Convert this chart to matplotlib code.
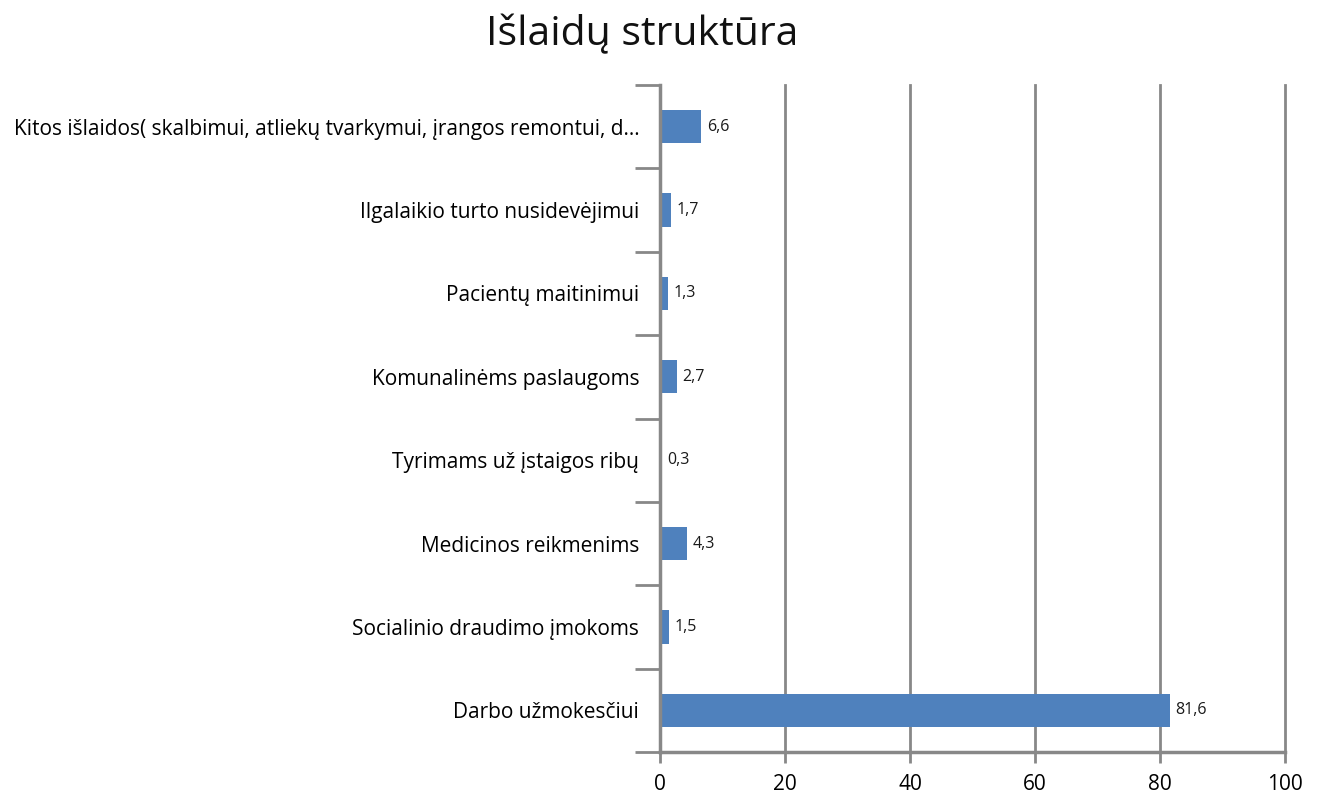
import matplotlib
matplotlib.use("Agg")
import matplotlib.pyplot as plt

categories = [
    "Darbo užmokesčiui",
    "Socialinio draudimo įmokoms",
    "Medicinos reikmenims",
    "Tyrimams už įstaigos ribų",
    "Komunalinėms paslaugoms",
    "Pacientų maitinimui",
    "Ilgalaikio turto nusidevėjimui",
    "Kitos išlaidos( skalbimui, atliekų tvarkymui, įrangos remontui, d...",
]
values = [81.6, 1.5, 4.3, 0.3, 2.7, 1.3, 1.7, 6.6]
value_labels = ["81,6", "1,5", "4,3", "0,3", "2,7", "1,3", "1,7", "6,6"]
xticks = [0, 20, 40, 60, 80, 100]
title = "Išlaidų struktūra"

plt.rcParams['font.family'] = ['Open Sans', 'DejaVu Sans']

fig = plt.figure(figsize=(13.21, 7.96), dpi=100)
ax = fig.add_axes([660/1321, 1-752/796, (1285-660)/1321, (752-85)/796])

n = len(categories)
pos = list(range(n))
ax.barh(pos, values, height=0.4, color="#4F81BD", zorder=3)
for p, v, lab in zip(pos, values, value_labels):
    ax.text(v + 0.9, p, lab, va="center", ha="left", fontsize=11.5, color="#1a1a1a")

ax.set_xlim(0, 100)
ax.set_ylim(-0.5, n - 0.5)
ax.set_xticks(xticks)
ax.set_xticklabels([str(t) for t in xticks], fontsize=15)
ax.set_yticks(pos)
ax.set_yticklabels(categories, fontsize=15)
ax.tick_params(axis='y', length=0, pad=15)
ax.set_yticks([i - 0.5 for i in range(n + 1)], minor=True)
ax.tick_params(axis='y', which='minor', length=18, width=2, color="#888888")
ax.tick_params(axis='x', length=8, width=2, color="#888888", pad=8)

ax.grid(axis='x', color="#888888", linewidth=2, zorder=0)
for gl in ax.get_xgridlines():
    gl.set_clip_on(False)
for s in ['top', 'right']:
    ax.spines[s].set_visible(False)
for s in ['left', 'bottom']:
    ax.spines[s].set_color("#888888")
    ax.spines[s].set_linewidth(2.5)
    ax.spines[s].set_zorder(4)

fig.text(642/1321, 1-35/796, title, ha="center", va="center", fontsize=29.5, color="#111111")

fig.savefig("out.png", dpi=100)
